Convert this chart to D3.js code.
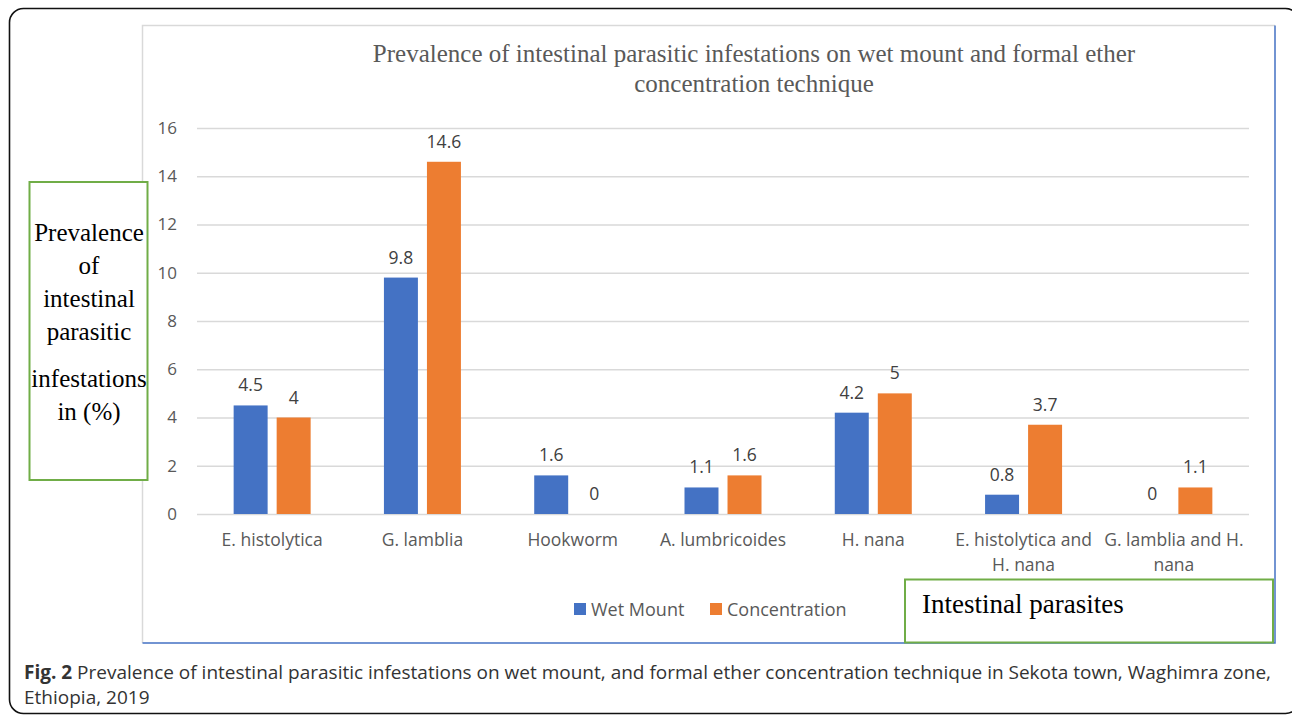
<!DOCTYPE html>
<html>
<head>
<meta charset="utf-8">
<script src="https://cdn.jsdelivr.net/npm/d3@7"></script>
<style>
  body { margin: 0; background: #fff; }
</style>
</head>
<body>
<div id="chart"></div>
<script>
// Data
const categories = [
  ["E. histolytica"],
  ["G. lamblia"],
  ["Hookworm"],
  ["A. lumbricoides"],
  ["H. nana"],
  ["E. histolytica and", "H. nana"],
  ["G. lamblia and H.", "nana"]
];
const wetMount = [4.5, 9.8, 1.6, 1.1, 4.2, 0.8, 0];
const concentration = [4, 14.6, 0, 1.6, 5, 3.7, 1.1];
const seriesNames = ["Wet Mount", "Concentration"];
const yTicks = [0, 2, 4, 6, 8, 10, 12, 14, 16];

const width = 1292, height = 715;
const colors = ["#4472c4", "#ed7d31"];
const sans = "'Open Sans', 'Liberation Sans', sans-serif";
const serif = "'Liberation Serif', 'DejaVu Serif', serif";

const svg = d3.select("#chart").append("svg")
    .attr("width", width)
    .attr("height", height);

// outer rounded frame
svg.append("rect")
    .attr("x", 9.5).attr("y", 8.5)
    .attr("width", 1290).attr("height", 705)
    .attr("rx", 14)
    .attr("fill", "none")
    .attr("stroke", "#111")
    .attr("stroke-width", 1.6);

// chart area border: grey top/left, blue right/bottom
svg.append("path")
    .attr("d", "M142.5,643 V25.5 H1275")
    .attr("fill", "none").attr("stroke", "#d9d9d9").attr("stroke-width", 1.5);
svg.append("path")
    .attr("d", "M1275,25.5 V643 H142.5")
    .attr("fill", "none").attr("stroke", "#4472c4").attr("stroke-width", 1.5);

// scales
const x = d3.scaleBand()
    .domain(d3.range(categories.length))
    .range([197, 1249]);
const y = d3.scaleLinear().domain([0, 16]).range([514, 128]);
const x1 = d3.scaleBand().domain([0, 1]).range([-38.5, 38.5]).paddingInner(0.21);

// gridlines + y labels
const yAxis = d3.axisLeft(y).tickValues(yTicks).tickSize(-(1249 - 197)).tickPadding(20);
const gy = svg.append("g").attr("transform", "translate(197,0)").call(yAxis);
gy.select(".domain").remove();
gy.selectAll(".tick line").attr("stroke", "#d9d9d9").attr("stroke-width", 1.3);
gy.selectAll(".tick text")
    .attr("fill", "#595959")
    .style("font-family", sans)
    .style("font-size", "17px");

// bars
const groups = svg.append("g").selectAll("g")
    .data(categories)
    .join("g")
    .attr("transform", (d, i) => `translate(${x(i) + x.bandwidth() / 2},0)`);

const series = [wetMount, concentration];
series.forEach((vals, s) => {
  groups.append("rect")
      .attr("x", x1(s))
      .attr("width", x1.bandwidth())
      .attr("y", (d, i) => y(vals[i]))
      .attr("height", (d, i) => y(0) - y(vals[i]))
      .attr("fill", colors[s]);
  groups.append("text")
      .attr("x", x1(s) + x1.bandwidth() / 2)
      .attr("y", (d, i) => y(vals[i]) - 14)
      .attr("text-anchor", "middle")
      .attr("fill", "#404040")
      .style("font-family", sans)
      .style("font-size", "17.5px")
      .text((d, i) => vals[i]);
});

// category labels
groups.append("text")
    .attr("text-anchor", "middle")
    .attr("fill", "#595959")
    .style("font-family", sans)
    .style("font-size", "17.5px")
    .selectAll("tspan")
    .data(d => d)
    .join("tspan")
    .attr("x", 0)
    .attr("y", (d, i) => 546 + i * 25)
    .text(d => d);

// title
svg.append("text")
    .attr("text-anchor", "middle")
    .attr("fill", "#595959")
    .style("font-family", serif)
    .style("font-size", "25px")
    .selectAll("tspan")
    .data(["Prevalence of intestinal parasitic infestations on wet mount and formal ether",
           "concentration technique"])
    .join("tspan")
    .attr("x", 754)
    .attr("y", (d, i) => 62 + i * 30)
    .text(d => d);

// legend
const legend = svg.append("g").selectAll("g")
    .data(seriesNames)
    .join("g")
    .attr("transform", (d, i) => `translate(${574 + i * 136},603)`);
legend.append("rect").attr("width", 12).attr("height", 12).attr("fill", (d, i) => colors[i]);
legend.append("text")
    .attr("x", 17).attr("y", 13)
    .attr("fill", "#595959")
    .style("font-family", sans)
    .style("font-size", "18px")
    .text(d => d);

// y-axis title box
svg.append("rect")
    .attr("x", 29.5).attr("y", 182)
    .attr("width", 118).attr("height", 298)
    .attr("fill", "#fff")
    .attr("stroke", "#70ad47").attr("stroke-width", 2);
const yTitleLines = ["Prevalence", "of", "intestinal", "parasitic", "infestations", "in (%)"];
const yTitleY = [241, 274, 307, 340, 387, 420];
svg.append("text")
    .attr("text-anchor", "middle")
    .attr("fill", "#000")
    .style("font-family", serif)
    .style("font-size", "25px")
    .selectAll("tspan")
    .data(yTitleLines)
    .join("tspan")
    .attr("x", 89)
    .attr("y", (d, i) => yTitleY[i])
    .text(d => d);

// x-axis title box
svg.append("rect")
    .attr("x", 905).attr("y", 579.5)
    .attr("width", 368).attr("height", 63)
    .attr("fill", "#fff")
    .attr("stroke", "#70ad47").attr("stroke-width", 2);
svg.append("text")
    .attr("x", 922).attr("y", 613)
    .attr("fill", "#000")
    .style("font-family", serif)
    .style("font-size", "27px")
    .text("Intestinal parasites");

// caption
const cap = svg.append("text")
    .attr("fill", "#333")
    .style("font-family", sans)
    .style("font-size", "19px");
const l1 = cap.append("tspan").attr("x", 24).attr("y", 679);
l1.append("tspan").attr("font-weight", "bold").text("Fig. 2");
l1.append("tspan").text(" Prevalence of intestinal parasitic infestations on wet mount, and formal ether concentration technique in Sekota town, Waghimra zone,");
cap.append("tspan").attr("x", 24).attr("y", 704).text("Ethiopia, 2019");
</script>
</body>
</html>
